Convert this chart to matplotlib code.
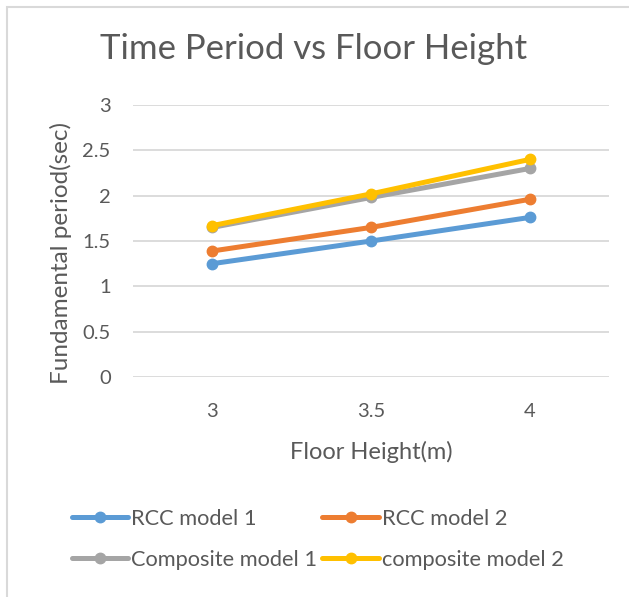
import matplotlib.pyplot as plt
import matplotlib.patches as patches
import numpy as np

plt.rcParams['font.family'] = ['Lato', 'DejaVu Sans']

floor_height = ['3', '3.5', '4']
rcc_1 = [1.25, 1.50, 1.76]
rcc_2 = [1.39, 1.65, 1.96]
composite_1 = [1.65, 1.98, 2.30]
composite_2 = [1.67, 2.02, 2.40]

series = [
    ('RCC model 1', rcc_1, '#5B9BD5'),
    ('RCC model 2', rcc_2, '#ED7D31'),
    ('Composite model 1', composite_1, '#A5A5A5'),
    ('composite model 2', composite_2, '#FFC000'),
]

text_col = '#595959'
grid_col = '#D9D9D9'

fig = plt.figure(figsize=(6.29, 5.97), dpi=100)
ax = fig.add_axes([0.2114, 0.3685, 0.757, 0.4556])

x = np.arange(len(floor_height))
lines = {}
for name, vals, col in series:
    lines[name], = ax.plot(x, vals, color=col, lw=3.6, marker='o', ms=7.5,
                           solid_capstyle='round', label=name)

ax.set_xlim(-0.5, 2.5)
ax.set_ylim(0, 3)
ax.set_yticks(np.arange(0, 3.01, 0.5))
ax.set_yticklabels(['0', '0.5', '1', '1.5', '2', '2.5', '3'])
ax.set_xticks(x)
ax.set_xticklabels(floor_height)
ax.grid(axis='y', color=grid_col, lw=1.3)
ax.set_axisbelow(True)
for s in ax.spines.values():
    s.set_visible(False)
ax.tick_params(axis='both', length=0, labelsize=14.5, labelcolor=text_col)
ax.tick_params(axis='y', pad=16)
ax.tick_params(axis='x', pad=19)

ax.set_xlabel('Floor Height(m)', fontsize=17, color=text_col, labelpad=15)
ax.set_ylabel('Fundamental period(sec)', fontsize=17.5, color=text_col)
ax.yaxis.set_label_coords(-0.128, 0.456)

fig.text(0.498, 0.918, 'Time Period vs Floor Height', fontsize=25,
         color=text_col, ha='center', va='center')

# legend fills column by column, so order entries to read across rows
order = ['RCC model 1', 'Composite model 1', 'RCC model 2', 'composite model 2']
fig.legend([lines[n] for n in order], order, loc='upper left',
           bbox_to_anchor=(0.114, 0.148), ncol=2, frameon=False, fontsize=15.7,
           handlelength=2.6, handletextpad=0.12, columnspacing=0.25,
           labelspacing=0.97, labelcolor=text_col, borderpad=0, borderaxespad=0)

# chart area border, only top and left edges fall inside the canvas
fig.patches.append(patches.Rectangle((7 / 629, -0.1), 1.2, 1 - 7 / 597 + 0.1,
                                     transform=fig.transFigure, fill=False,
                                     edgecolor='#D9D9D9', lw=1.5))

fig.savefig('out.png', dpi=100)
